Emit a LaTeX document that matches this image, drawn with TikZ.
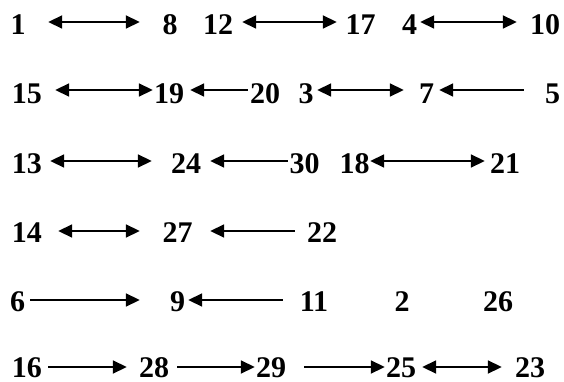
\documentclass[tikz,border=0pt]{standalone}
\usepackage{fontspec}
\setmainfont{Liberation Serif}
\usetikzlibrary{arrows.meta}
\begin{document}
\begin{tikzpicture}[x=1pt,y=-1pt,
  num/.style={anchor=base,inner sep=0pt,font=\fontsize{30}{36}\selectfont\bfseries},
  ln/.style={line width=1.8pt},
  dbl/.style={ln,{Triangle[length=14pt,width=13pt]}-{Triangle[length=14pt,width=13pt]}},
  rgt/.style={ln,-{Triangle[length=14pt,width=13pt]}},
  lft/.style={ln,{Triangle[length=14pt,width=13pt]}-}]
\useasboundingbox (0,0) rectangle (564,382);
% row 1
\node[num] (n1) at (18,35) {1};
\node[num] (n8) at (170,35) {8};
\node[num] (n12) at (218,35) {12};
\node[num] (n17) at (360.5,35) {17};
\node[num] (n4) at (409.5,35) {4};
\node[num] (n10) at (545,35) {10};
\draw[dbl] ([shift={(22.5,-13)}]n1.base east) -- ([shift={(-22.5,-13)}]n8.base west);
\draw[dbl] ([shift={(9,-13)}]n12.base east) -- ([shift={(-8.5,-13)}]n17.base west);
\draw[dbl] ([shift={(3,-13)}]n4.base east) -- ([shift={(-13,-13)}]n10.base west);
% row 2
\node[num] (n15) at (27,104) {15};
\node[num] (n19) at (169,104) {19};
\node[num] (n20) at (265,104) {20};
\node[num] (n3) at (306,104) {3};
\node[num] (n7) at (426.5,104) {7};
\node[num] (n5) at (552.5,104) {5};
\draw[dbl] ([shift={(13,-14)}]n15.base east) -- ([shift={(-1,-14)}]n19.base west);
\draw[lft] ([shift={(6,-14)}]n19.base east) -- ([shift={(-2,-14)}]n20.base west);
\draw[dbl] ([shift={(3.5,-14)}]n3.base east) -- ([shift={(-15,-14)}]n7.base west);
\draw[lft] ([shift={(5,-14)}]n7.base east) -- ([shift={(-21,-14)}]n5.base west);
% row 3
\node[num] (n13) at (27,173) {13};
\node[num] (n24) at (186,173) {24};
\node[num] (n30) at (304.5,173) {30};
\node[num] (n18) at (354.5,173) {18};
\node[num] (n21) at (505,173) {21};
\draw[dbl] ([shift={(8,-12)}]n13.base east) -- ([shift={(-19,-12)}]n24.base west);
\draw[lft] ([shift={(9,-12)}]n24.base east) -- ([shift={(-1.5,-12)}]n30.base west);
\draw[dbl] ([shift={(0.5,-12)}]n18.base east) -- ([shift={(-5,-12)}]n21.base west);
% row 4
\node[num] (n14) at (27,242) {14};
\node[num] (n27) at (177.5,242) {27};
\node[num] (n22) at (322,242) {22};
\draw[dbl] ([shift={(16,-11)}]n14.base east) -- ([shift={(-22.5,-11)}]n27.base west);
\draw[lft] ([shift={(17.5,-11)}]n27.base east) -- ([shift={(-12,-11)}]n22.base west);
% row 5
\node[num] (n6) at (17.5,311) {6};
\node[num] (n9) at (177.5,311) {9};
\node[num] (n11) at (314,311) {11};
\node[num] (n2) at (402,311) {2};
\node[num] (n26) at (498,311) {26};
\draw[rgt] ([shift={(5,-11)}]n6.base east) -- ([shift={(-30,-11)}]n9.base west);
\draw[lft] ([shift={(3,-11)}]n9.base east) -- ([shift={(-17,-11)}]n11.base west);
% row 6
\node[num] (n16) at (27,377) {16};
\node[num] (n28) at (154,377) {28};
\node[num] (n29) at (271,377) {29};
\node[num] (n25) at (401,377) {25};
\node[num] (n23) at (530,377) {23};
\draw[rgt] ([shift={(6,-10)}]n16.base east) -- ([shift={(-12,-10)}]n28.base west);
\draw[rgt] ([shift={(8,-10)}]n28.base east) -- ([shift={(-1,-10)}]n29.base west);
\draw[rgt] ([shift={(18,-10)}]n29.base east) -- ([shift={(-1,-10)}]n25.base west);
\draw[dbl] ([shift={(6,-10)}]n25.base east) -- ([shift={(-13,-10)}]n23.base west);
\end{tikzpicture}
\end{document}
